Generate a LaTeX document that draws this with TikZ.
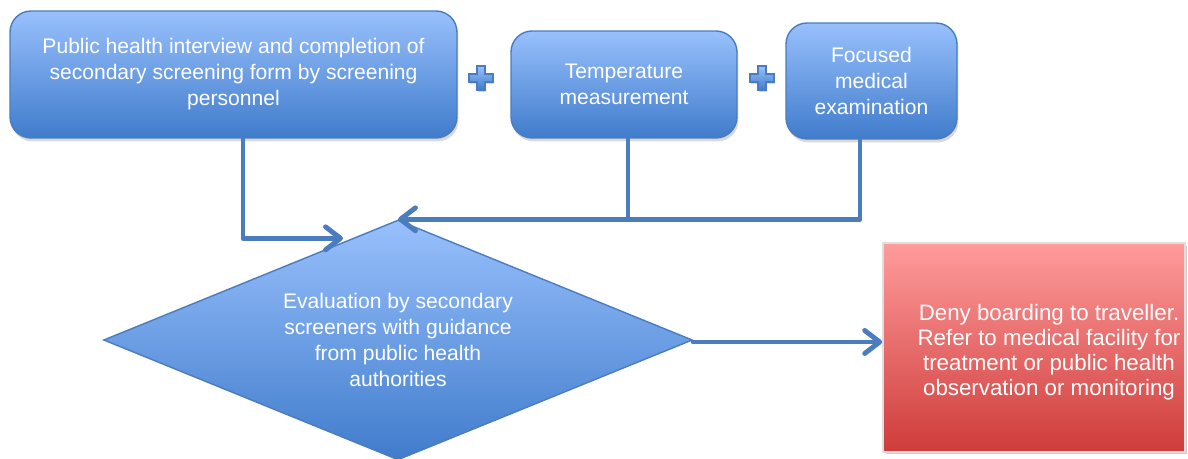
\documentclass[tikz,border=0pt]{standalone}
\usepackage{fontspec}
\setmainfont{Liberation Sans}
\usetikzlibrary{shapes.geometric,arrows.meta,shadows}
\definecolor{boxtop}{RGB}{152,192,252}
\definecolor{boxbot}{RGB}{64,124,204}
\definecolor{boxline}{RGB}{74,124,190}
\definecolor{redtop}{RGB}{255,156,156}
\definecolor{redbot}{RGB}{206,60,58}
\tikzset{
  stepbox/.style={rounded corners=0.42cm, draw=boxline, line width=0.8pt,
    top color=boxtop, bottom color=boxbot, text=white, align=center,
    font=\fontsize{12}{14.8}\selectfont, inner sep=0pt,
    drop shadow={opacity=0.3,shadow xshift=0.03cm,shadow yshift=-0.07cm}},
  decision/.style={diamond, shape aspect=2.45, draw=boxline, line width=0.8pt,
    top color=boxtop, bottom color=boxbot, text=white, align=center,
    font=\fontsize{12}{14.8}\selectfont, inner sep=0pt},
  denybox/.style={draw=gray!25, line width=1pt, top color=redtop, bottom color=redbot,
    inner sep=0pt, drop shadow={opacity=0.4,shadow xshift=0.05cm,shadow yshift=-0.05cm}},
  denytext/.style={text=white, align=center, font=\fontsize{12.7}{14.3}\selectfont,
    xshift=0.3cm, yshift=-0.1cm},
  flow/.style={draw=boxline, line width=2.8pt, line cap=round, line join=round},
  plussign/.style={draw=boxline, line width=0.8pt, top color=boxtop, bottom color=boxbot,
    drop shadow={opacity=0.3,shadow xshift=0.02cm,shadow yshift=-0.04cm}}
}
\begin{document}
\begin{tikzpicture}[x=0.02cm,y=-0.02cm,>={Straight Barb[length=0.3cm,width=0.46cm,round]}]
    \useasboundingbox (0,0) rectangle (1188,459);
    % top row
    \node[stepbox, minimum width=8.94cm, minimum height=2.54cm] (interview) at (233.5,74.5)
        {Public health interview and completion of\\secondary screening form by screening\\personnel};
    \node[stepbox, minimum width=4.52cm, minimum height=2.14cm] (temp) at (624,84.5)
        {Temperature\\measurement};
    \node[stepbox, minimum width=3.42cm, minimum height=2.32cm] (exam) at (871.5,81)
        {Focused\\medical\\examination};
    % plus signs
    \draw[plussign,shift={(481,78)}] (-4,-12)--(4,-12)--(4,-4)--(12,-4)--(12,4)--(4,4)--(4,12)--(-4,12)--(-4,4)--(-12,4)--(-12,-4)--(-4,-4)--cycle;
    \draw[plussign,shift={(762,78)}] (-4,-12)--(4,-12)--(4,-4)--(12,-4)--(12,4)--(4,4)--(4,12)--(-4,12)--(-4,4)--(-12,4)--(-12,-4)--(-4,-4)--cycle;
    % decision and outcome
    \node[decision, minimum width=11.78cm, minimum height=4.8cm] (eval) at (398,340)
        {Evaluation by secondary\\screeners with guidance\\from public health\\authorities};
    \node[denybox, minimum width=6.04cm, minimum height=4.18cm,
        label={[denytext]center:{Deny boarding to traveller.\\Refer to medical facility for\\treatment or public health\\observation or monitoring}}]
        (deny) at (1034,347.5) {};
    % connectors
    \draw[flow,->] ([shift={(9.5,0)}]interview.south) |- ([shift={(-55,19)}]eval.north);
    \draw[flow] ([shift={(4,0)}]temp.south) -- ([shift={(4,0)}]temp.south |- eval.north);
    \draw[flow,->] ([shift={(-11.5,0)}]exam.south) |- (eval.north);
    \draw[flow,->] ([shift={(0,2)}]eval.east) -- ([shift={(0,2)}]eval.east -| deny.west);
\end{tikzpicture}
\end{document}
